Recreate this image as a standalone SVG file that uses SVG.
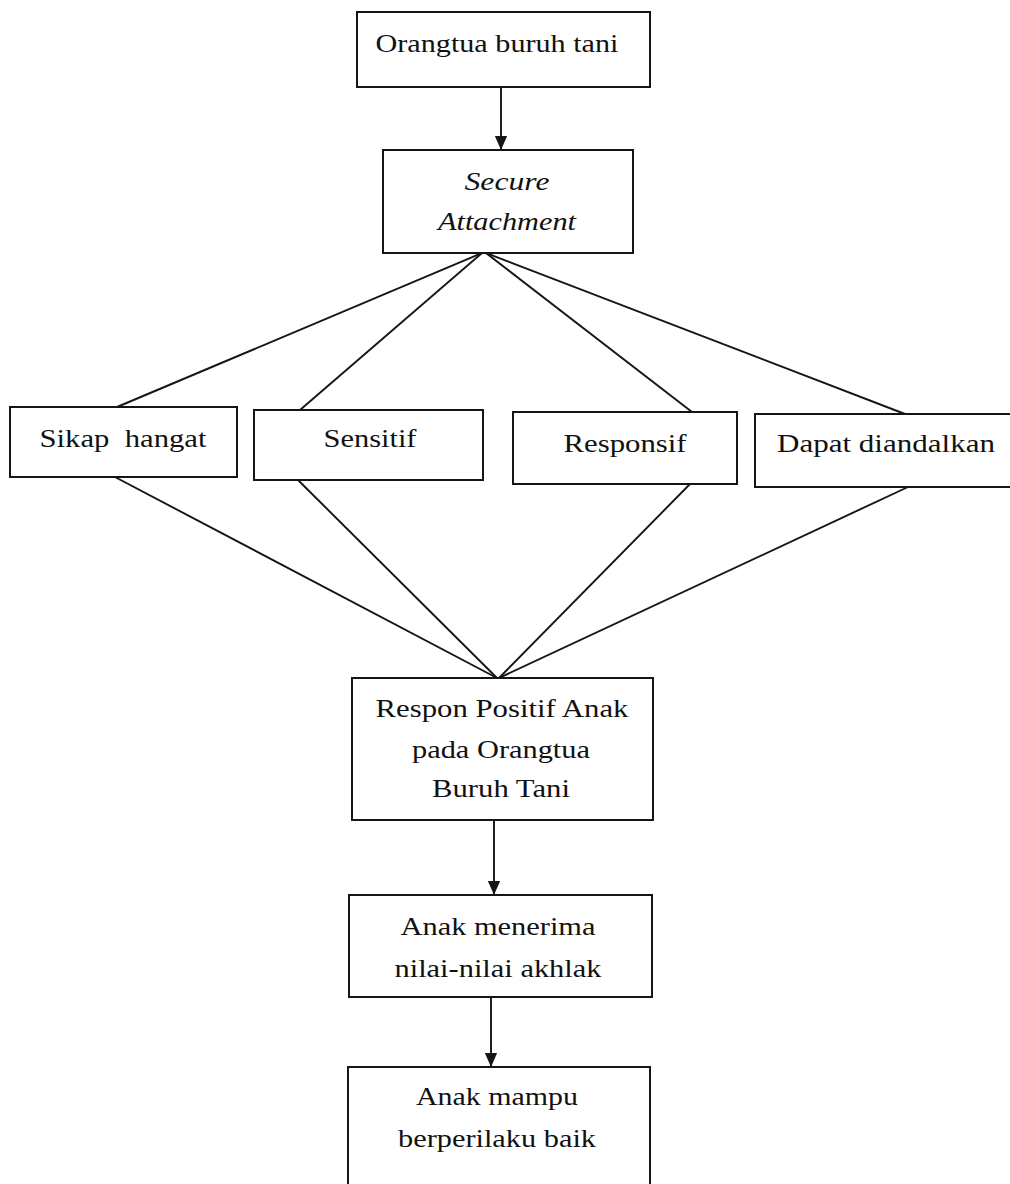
<svg xmlns="http://www.w3.org/2000/svg" width="1010" height="1184" viewBox="0 0 1010 1184">
<style>
.box{fill:#fff;stroke:#151515;stroke-width:2}
.t{font-family:'Liberation Serif',Tinos,'Times New Roman',Times,serif;font-size:25px;fill:#111;text-anchor:middle;white-space:pre}
.i{font-style:italic}
.c{stroke:#151515;stroke-width:1.9;fill:none}
</style>
<defs>
<marker id="arr" markerWidth="14" markerHeight="16" refX="16" refY="7" orient="auto" markerUnits="userSpaceOnUse" viewBox="0 0 16 14">
<path d="M0,0 L16,7 L0,14 Z" fill="#151515"/>
</marker>
</defs>
<rect width="1010" height="1184" fill="#fff"/>
<g id="connectors">
<line class="c" x1="501" y1="87" x2="501" y2="150" marker-end="url(#arr)"/>
<line class="c" x1="482" y1="253" x2="117" y2="407"/>
<line class="c" x1="482" y1="253" x2="300" y2="410"/>
<line class="c" x1="486" y1="253" x2="692" y2="412"/>
<line class="c" x1="486" y1="253" x2="905" y2="414"/>
<line class="c" x1="115" y1="477" x2="497" y2="678"/>
<line class="c" x1="298" y1="480" x2="497" y2="678"/>
<line class="c" x1="690" y1="484" x2="499" y2="678"/>
<line class="c" x1="908" y1="487" x2="499" y2="678"/>
<line class="c" x1="494" y1="820" x2="494" y2="895" marker-end="url(#arr)"/>
<line class="c" x1="491" y1="997" x2="491" y2="1067" marker-end="url(#arr)"/>
</g>
<g id="n1"><rect class="box" x="357" y="12" width="293" height="75"/><text class="t" x="497" y="52" textLength="243" lengthAdjust="spacingAndGlyphs">Orangtua buruh tani</text></g>
<g id="n2"><rect class="box" x="383" y="150" width="250" height="103"/><text class="t i" x="507" y="190" textLength="85" lengthAdjust="spacingAndGlyphs">Secure</text><text class="t i" x="507" y="230" textLength="138" lengthAdjust="spacingAndGlyphs">Attachment</text></g>
<g id="n3"><rect class="box" x="10" y="407" width="227" height="70"/><text class="t" x="123" y="447" textLength="167" lengthAdjust="spacingAndGlyphs">Sikap  hangat</text></g>
<g id="n4"><rect class="box" x="254" y="410" width="229" height="70"/><text class="t" x="370" y="447" textLength="93" lengthAdjust="spacingAndGlyphs">Sensitif</text></g>
<g id="n5"><rect class="box" x="513" y="412" width="224" height="72"/><text class="t" x="625" y="452" textLength="123" lengthAdjust="spacingAndGlyphs">Responsif</text></g>
<g id="n6"><rect class="box" x="755" y="414" width="260" height="73"/><text class="t" x="886" y="452" textLength="218" lengthAdjust="spacingAndGlyphs">Dapat diandalkan</text></g>
<g id="n7"><rect class="box" x="352" y="678" width="301" height="142"/><text class="t" x="502" y="717" textLength="253" lengthAdjust="spacingAndGlyphs">Respon Positif Anak</text><text class="t" x="501" y="758" textLength="178" lengthAdjust="spacingAndGlyphs">pada Orangtua</text><text class="t" x="501" y="797" textLength="138" lengthAdjust="spacingAndGlyphs">Buruh Tani</text></g>
<g id="n8"><rect class="box" x="349" y="895" width="303" height="102"/><text class="t" x="498" y="935" textLength="195" lengthAdjust="spacingAndGlyphs">Anak menerima</text><text class="t" x="498" y="977" textLength="207" lengthAdjust="spacingAndGlyphs">nilai-nilai akhlak</text></g>
<g id="n9"><rect class="box" x="348" y="1067" width="302" height="130"/><text class="t" x="497" y="1105" textLength="162" lengthAdjust="spacingAndGlyphs">Anak mampu</text><text class="t" x="497" y="1147" textLength="198" lengthAdjust="spacingAndGlyphs">berperilaku baik</text></g>
</svg>
